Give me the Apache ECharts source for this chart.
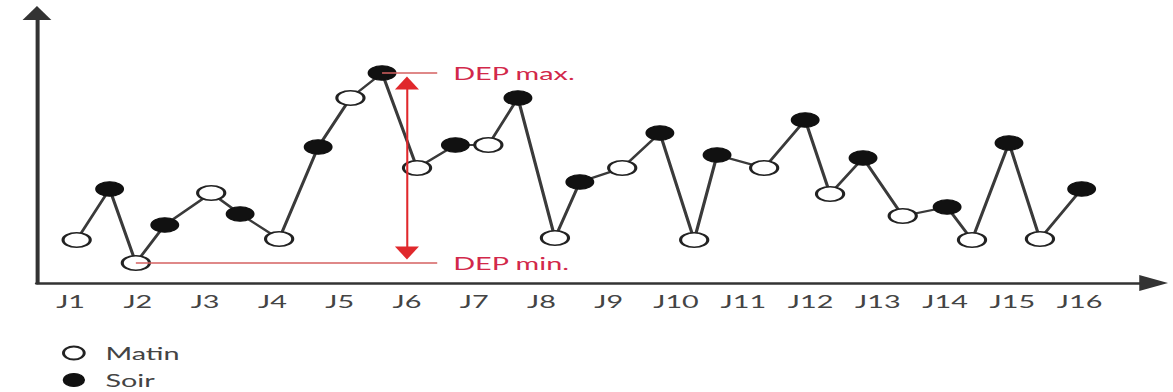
<!DOCTYPE html>
<html lang="fr">
<head>
<meta charset="utf-8">
<title>DEP matin / soir</title>
<script src="https://cdn.jsdelivr.net/npm/echarts@6/dist/echarts.min.js"></script>
<style>
  html, body { margin: 0; padding: 0; background: #ffffff; overflow: hidden; }
  /* the drawing is laid out narrow, then widened horizontally */
  #chart { width: 733px; height: 392px; transform: scaleX(1.60027); transform-origin: 0 0; }
</style>
</head>
<body>
<div id="chart"></div>
<script>
// Day tick labels
const dayLabels = ['J1', 'J2', 'J3', 'J4', 'J5', 'J6', 'J7', 'J8',
                   'J9', 'J10', 'J11', 'J12', 'J13', 'J14', 'J15', 'J16'];

// Morning readings: time (in days) and peak expiratory flow (L/min)
const matinTime = [1.09, 1.97, 3.09, 4.10, 5.16, 6.15, 7.21, 8.20, 9.20, 10.27, 11.31, 12.29, 13.37, 14.40, 15.41];
const matinDEP  = [146, 100, 240, 148, 430, 290, 336, 150, 290, 146, 290, 238, 194, 146, 148];

// Evening readings
const soirTime = [1.58, 2.40, 3.52, 4.68, 5.63, 6.72, 7.65, 8.57, 9.76, 10.61, 11.92, 12.78, 14.03, 14.95, 16.03];
const soirDEP  = [248, 176, 198, 332, 480, 336, 430, 262, 360, 316, 386, 310, 212, 340, 248];

const matinPts = matinTime.map((t, i) => [t, matinDEP[i]]);
const soirPts  = soirTime.map((t, i) => [t, soirDEP[i]]);
const allPts   = matinPts.concat(soirPts).sort((a, b) => a[0] - b[0]);

const maxPt = allPts.reduce((m, p) => (p[1] > m[1] ? p : m));
const minPt = allPts.reduce((m, p) => (p[1] < m[1] ? p : m));

// annotation placement (axis units)
const annotEndDay = 6.45;
const arrowDay = 6.0;
const arrowInset = 20;

const INK = '#333333';
const TEXT_INK = '#444444';
const RED_TEXT = '#d2284a';
const RED = '#e0282c';
const ELLIPSE = 'path://M0,50 A50,50 0 1 1 100,50 A50,50 0 1 1 0,50 Z';
const FONT = 'Lato, "Open Sans", sans-serif';

const chart = echarts.init(document.getElementById('chart'), null, { renderer: 'svg' });

chart.setOption({
  animation: false,
  backgroundColor: '#ffffff',
  grid: { left: 23.1, right: 12.1, top: 13, bottom: 109, containLabel: false },
  xAxis: {
    type: 'value',
    min: 0.5,
    max: 17.1,
    axisLine: {
      show: true,
      onZero: false,
      symbol: ['none', 'triangle'],
      symbolSize: [16, 18],
      lineStyle: { color: INK, width: 2.5 }
    },
    axisTick: { show: false },
    splitLine: { show: false },
    axisLabel: {
      customValues: dayLabels.map((_, i) => i + 1),
      formatter: v => dayLabels[Math.round(v) - 1],
      margin: 9,
      fontSize: 18,
      fontFamily: FONT,
      color: TEXT_INK
    }
  },
  yAxis: {
    type: 'value',
    min: 60,
    max: 600,
    axisLine: {
      show: true,
      onZero: false,
      symbol: ['none', 'triangle'],
      symbolSize: [18, 14],
      lineStyle: { color: INK, width: 2.5 }
    },
    axisTick: { show: false },
    splitLine: { show: false },
    axisLabel: { show: false }
  },
  legend: {
    orient: 'vertical',
    left: 38.75,
    top: 343,
    padding: 0,
    height: 48,
    itemWidth: 17.5,
    itemHeight: 13,
    itemGap: 7,
    selectedMode: false,
    textStyle: { fontSize: 18, fontFamily: FONT, color: TEXT_INK, lineHeight: 20, padding: [0, 0, 0, 6] },
    data: [
      { name: 'Matin', icon: ELLIPSE, itemStyle: { color: '#ffffff', borderColor: '#222222', borderWidth: 1.8 } },
      { name: 'Soir', icon: ELLIPSE, itemStyle: { color: '#111111', borderColor: '#111111', borderWidth: 1 } }
    ]
  },
  series: [
    {
      name: 'DEP',
      type: 'line',
      data: allPts,
      showSymbol: false,
      silent: true,
      z: 2,
      lineStyle: { color: '#3a3a3a', width: 2 },
      markLine: {
        silent: true,
        symbol: 'none',
        animation: false,
        data: [
          [
            { coord: [maxPt[0], maxPt[1]], lineStyle: { color: '#d46060', width: 1.5, type: 'solid' },
              label: { show: true, position: 'end', formatter: 'DEP max.', distance: 10,
                       color: RED_TEXT, fontSize: 18, fontFamily: FONT } },
            { coord: [annotEndDay, maxPt[1]] }
          ],
          [
            { coord: [minPt[0], minPt[1]], lineStyle: { color: '#d46060', width: 1.5, type: 'solid' },
              label: { show: true, position: 'end', formatter: 'DEP min.', distance: 10,
                       color: RED_TEXT, fontSize: 18, fontFamily: FONT } },
            { coord: [annotEndDay, minPt[1]] }
          ],
          [
            { coord: [arrowDay, maxPt[1] - arrowInset], symbol: 'triangle', symbolSize: [15, 13],
              lineStyle: { color: RED, width: 1.3, type: 'solid' }, label: { show: false } },
            { coord: [arrowDay, minPt[1] + arrowInset], symbol: 'triangle', symbolSize: [15, 13] }
          ]
        ]
      }
    },
    {
      name: 'Matin',
      type: 'scatter',
      data: matinPts,
      symbol: ELLIPSE,
      symbolSize: [17, 14.5],
      z: 3,
      silent: true,
      itemStyle: { color: '#ffffff', borderColor: '#222222', borderWidth: 1.8, opacity: 1 }
    },
    {
      name: 'Soir',
      type: 'scatter',
      data: soirPts,
      symbol: ELLIPSE,
      symbolSize: [17, 14.5],
      z: 3,
      silent: true,
      itemStyle: { color: '#111111', borderColor: '#111111', borderWidth: 1, opacity: 1 }
    }
  ]
});
</script>
</body>
</html>
